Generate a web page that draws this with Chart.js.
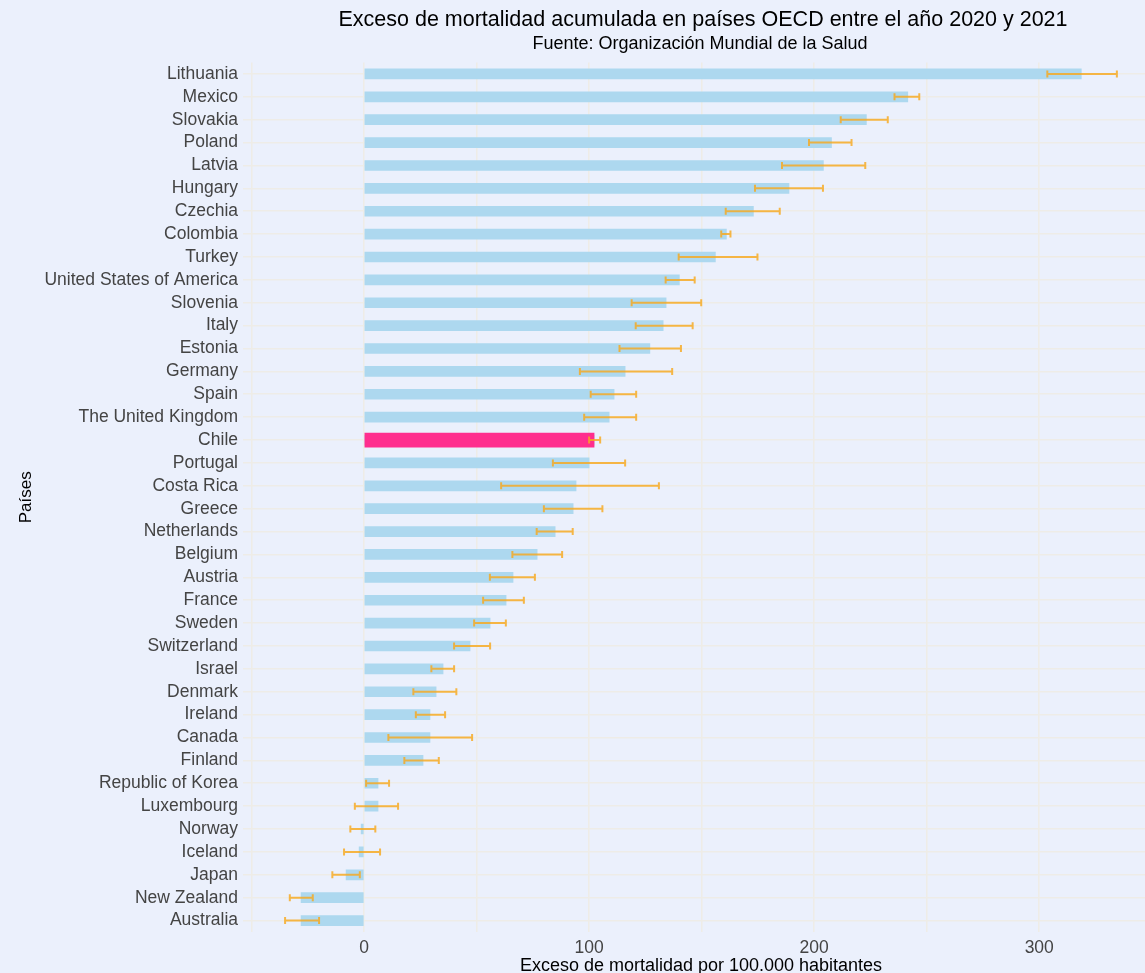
<!DOCTYPE html>
<html>
<head>
<meta charset="utf-8">
<script src="https://cdn.jsdelivr.net/npm/chart.js@4.4.1/dist/chart.umd.min.js"></script>
<style>
  html, body { margin: 0; padding: 0; background: #EBF0FC; overflow: hidden; }
  #wrap { width: 1145px; height: 973px; position: relative; }
</style>
</head>
<body>
<div id="wrap"><canvas id="c"></canvas></div>
<script>
const titleText = 'Exceso de mortalidad acumulada en países OECD entre el año 2020 y 2021';
const subtitleText = 'Fuente: Organización Mundial de la Salud';
const xTitleText = 'Exceso de mortalidad por 100.000 habitantes';
const yTitleText = 'Países';

const categories = [
  'Lithuania', 'Mexico', 'Slovakia', 'Poland', 'Latvia', 'Hungary', 'Czechia',
  'Colombia', 'Turkey', 'United States of America', 'Slovenia', 'Italy', 'Estonia',
  'Germany', 'Spain', 'The United Kingdom', 'Chile', 'Portugal', 'Costa Rica',
  'Greece', 'Netherlands', 'Belgium', 'Austria', 'France', 'Sweden', 'Switzerland',
  'Israel', 'Denmark', 'Ireland', 'Canada', 'Finland', 'Republic of Korea',
  'Luxembourg', 'Norway', 'Iceland', 'Japan', 'New Zealand', 'Australia'
];
const values = [
  318.7, 241.6, 223.2, 207.7, 204.1, 188.8, 173.0,
  161.0, 156.1, 140.1, 134.2, 132.9, 127.0,
  116.0, 111.1, 108.9, 102.2, 100.0, 94.2,
  92.9, 84.9, 76.9, 66.2, 63.1, 56.0, 47.1,
  35.1, 32.0, 29.3, 29.3, 26.2, 6.2,
  6.2, -1.3, -2.2, -8.0, -28.0, -28.0
];
const errLow = [
  303.6, 235.7, 211.8, 197.7, 185.7, 173.7, 160.7,
  158.7, 139.8, 134.0, 118.9, 120.7, 113.5,
  95.9, 100.7, 97.8, 100.0, 83.9, 60.9,
  79.9, 76.7, 65.9, 55.9, 52.9, 48.9, 40.0,
  29.9, 21.9, 23.0, 10.8, 17.9, 0.9,
  -4.1, -6.1, -8.9, -14.1, -33.0, -35.1
];
const errHigh = [
  334.5, 246.7, 232.7, 216.6, 222.7, 203.9, 184.7,
  162.8, 174.8, 146.9, 149.8, 146.0, 140.8,
  136.9, 120.9, 120.9, 104.9, 116.0, 131.0,
  105.9, 92.7, 88.0, 75.9, 71.0, 63.0, 56.0,
  40.0, 41.0, 36.0, 48.0, 33.2, 11.1,
  15.1, 5.0, 7.1, -1.9, -22.8, -20.0
];
const xTickValues = [-50, 0, 50, 100, 150, 200, 250, 300];
const xLabelValues = [0, 100, 200, 300];
const highlight = 'Chile';

const FONT = '"Liberation Sans", Arial, Helvetica, sans-serif';
const BG = '#EBF0FC';
const GRID = '#EEECE7';

const highlightData = categories.map((c, i) => c === highlight ? values[i] : null);

const bgPlugin = {
  id: 'bg',
  beforeDraw(chart) {
    const ctx = chart.ctx;
    ctx.save();
    ctx.fillStyle = BG;
    ctx.fillRect(0, 0, chart.width, chart.height);
    ctx.restore();
  }
};

const errorBars = {
  id: 'errorBars',
  afterDatasetsDraw(chart) {
    const ctx = chart.ctx;
    const xs = chart.scales.x, ys = chart.scales.y;
    ctx.save();
    ctx.strokeStyle = 'rgba(246,168,30,0.82)';
    ctx.lineWidth = 2;
    categories.forEach((c, i) => {
      const y = ys.getPixelForValue(i);
      const x1 = xs.getPixelForValue(errLow[i]);
      const x2 = xs.getPixelForValue(errHigh[i]);
      ctx.beginPath();
      ctx.moveTo(x1, y); ctx.lineTo(x2, y);
      ctx.moveTo(x1, y - 3.5); ctx.lineTo(x1, y + 3.5);
      ctx.moveTo(x2, y - 3.5); ctx.lineTo(x2, y + 3.5);
      ctx.stroke();
    });
    ctx.restore();
  }
};

const titles = {
  id: 'titles',
  afterDraw(chart) {
    const ctx = chart.ctx;
    ctx.save();
    ctx.textAlign = 'center';
    ctx.textBaseline = 'middle';
    ctx.fillStyle = '#000';
    ctx.font = '21.5px ' + FONT;
    ctx.fillText(titleText, 703, 20);
    ctx.font = '18px ' + FONT;
    ctx.fillText(subtitleText, 700, 44);
    ctx.fillText(xTitleText, 701, 966);
    ctx.restore();
  }
};

new Chart(document.getElementById('c'), {
  type: 'bar',
  data: {
    labels: categories,
    datasets: [
      {
        data: highlightData,
        backgroundColor: '#FF2E8E',
        barThickness: 14,
        grouped: false,
        order: 1
      },
      {
        data: values,
        backgroundColor: '#ADD8EF',
        barThickness: 10,
        grouped: false,
        order: 2
      }
    ]
  },
  options: {
    indexAxis: 'y',
    responsive: true,
    maintainAspectRatio: false,
    animation: false,
    layout: { padding: { top: 62.5, left: 0, right: 0, bottom: 0 } },
    plugins: {
      legend: { display: false },
      tooltip: { enabled: false },
      title: { display: false }
    },
    scales: {
      x: {
        type: 'linear',
        min: -53.8,
        max: 347,
        afterBuildTicks(scale) {
          scale.ticks = xTickValues.map(v => ({ value: v }));
        },
        afterFit(scale) { scale.height = 41; },
        ticks: {
          autoSkip: false,
          maxRotation: 0,
          padding: 6,
          color: '#444',
          font: { family: FONT, size: 17.5 },
          callback: (v) => xLabelValues.includes(v) ? String(v) : ''
        },
        grid: { color: GRID, lineWidth: 1.6, drawTicks: false },
        border: { display: false }
      },
      y: {
        type: 'category',
        offset: true,
        afterFit(scale) { scale.width = 243; },
        ticks: {
          autoSkip: false,
          padding: 5,
          color: '#444',
          font: { family: FONT, size: 17.5 }
        },
        grid: { color: GRID, lineWidth: 1.6, drawTicks: false, offset: false },
        border: { display: false },
        title: {
          display: true,
          text: yTitleText,
          color: '#000',
          font: { family: FONT, size: 17 },
          padding: { top: 16, bottom: 0 }
        }
      }
    }
  },
  plugins: [bgPlugin, errorBars, titles]
});
</script>
</body>
</html>
